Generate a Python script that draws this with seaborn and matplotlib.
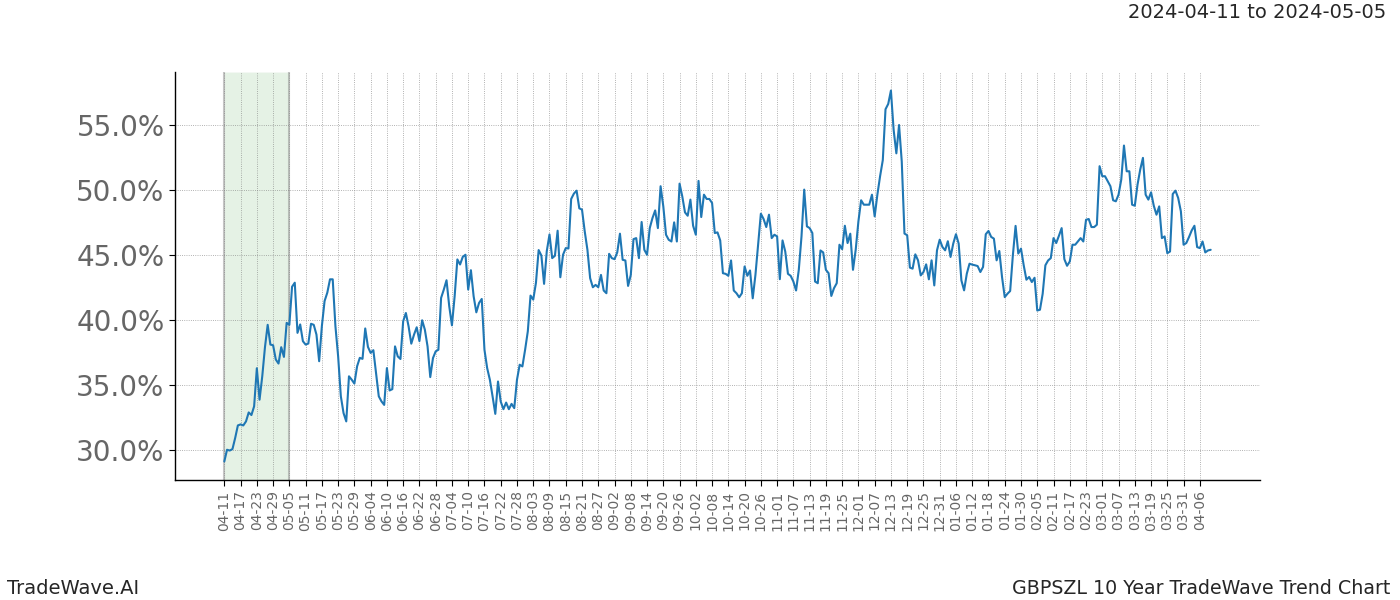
import numpy as np
import pandas as pd
import matplotlib
matplotlib.use("Agg")
import matplotlib.pyplot as plt
import matplotlib.dates as mdates
import seaborn as sns

start_date = "2024-04-11"
highlight_start = "2024-04-11"
highlight_end = "2024-05-05"
title_text = "2024-04-11 to 2024-05-05"
left_footer = "TradeWave.AI"
right_footer = "GBPSZL 10 Year TradeWave Trend Chart"
y_ticks = [30, 35, 40, 45, 50, 55]

values = [
    29.13, 30.03, 29.97, 30.08, 30.93, 31.90, 31.98, 31.90, 32.21, 32.90,
    32.70, 33.37, 36.30, 33.88, 35.68, 37.92, 39.64, 38.12, 38.07, 36.97,
    36.66, 37.92, 37.17, 39.79, 39.64, 42.57, 42.88, 39.02, 39.67, 38.38,
    38.12, 38.20, 39.72, 39.64, 38.89, 36.84, 39.54, 41.47, 42.11, 43.14,
    43.14, 39.54, 37.22, 34.14, 32.85, 32.21, 35.68, 35.42, 35.12, 36.45,
    37.10, 37.02, 39.36, 37.94, 37.48, 37.69, 35.94, 34.14, 33.75,
    33.48, 36.31, 34.59, 34.69, 37.98, 37.21, 37.01, 39.91, 40.55, 39.52,
    38.19, 38.88, 39.45, 38.39, 39.99, 39.27, 37.98, 35.62, 37.08, 37.60,
    37.72, 41.71, 42.35, 43.07, 41.07, 39.60, 41.84, 44.67, 44.28, 44.87,
    45.03, 42.35, 43.84, 41.84, 40.60, 41.32, 41.63, 37.72, 36.31, 35.41,
    34.13, 32.79, 35.28, 33.74, 33.15, 33.66, 33.15, 33.56, 33.23, 35.41,
    36.57, 36.44, 37.72, 39.14, 41.89, 41.58, 42.87, 45.39, 44.97, 42.79,
    45.31, 46.59,
    44.77, 44.95, 46.88, 43.30, 45.03, 45.54, 45.51, 49.32, 49.73, 49.96,
    48.60, 48.50, 46.83, 45.41, 43.23, 42.53, 42.71, 42.53, 43.48, 42.28,
    42.07, 45.10, 44.77, 44.69, 45.21, 46.65, 44.64, 44.59, 42.63, 43.48,
    46.23, 46.31, 44.77, 47.55, 45.41, 45.03, 47.08, 47.85, 48.44, 47.08,
    50.30, 48.75, 46.57, 46.18, 46.05, 47.52, 46.05, 50.50, 49.52, 48.29,
    48.03, 49.27, 47.26, 46.57, 50.71, 47.93, 49.65, 49.32, 49.32, 49.01,
    46.70,
    46.75, 46.13, 43.61, 43.56, 43.41, 44.59, 42.28, 42.07, 41.76, 42.07,
    44.13, 43.41, 43.82, 41.68, 43.48, 45.80, 48.19, 47.78, 47.16, 48.11,
    46.31, 46.57, 46.44, 43.15, 46.13, 45.28, 43.56, 43.41, 42.97, 42.28,
    43.87, 46.44, 50.04, 47.21, 47.08, 46.70, 42.97, 42.84, 45.36, 45.21,
    43.87, 43.61, 41.86, 42.46, 42.84, 45.80, 45.46, 47.26, 45.93, 46.65,
    43.87, 45.41, 47.60, 49.22, 48.88, 48.88, 48.88, 49.65, 47.98, 49.65,
    51.07,
    52.31, 56.22, 56.63, 57.66, 54.63, 52.83, 55.01, 52.19, 46.66, 46.53,
    44.04, 43.96, 45.06, 44.60, 43.44, 43.70, 44.29, 43.14, 44.60, 42.67,
    45.37, 46.19, 45.63, 45.37, 46.07, 44.86, 45.89, 46.61, 45.89, 43.06,
    42.29, 43.57, 44.34, 44.27, 44.22, 44.16, 43.70, 44.09, 46.61, 46.86,
    46.40, 46.27, 44.60, 45.32, 43.32, 41.77, 42.03, 42.24, 44.99, 47.25,
    45.12, 45.50, 44.22, 43.11, 43.32, 42.93, 43.26, 40.74, 40.80, 42.03,
    44.22,
    44.59, 44.77, 46.31, 45.93, 46.49, 47.08, 44.69, 44.18, 44.51, 45.80,
    45.80, 46.05, 46.31, 46.05, 47.72, 47.78, 47.16, 47.16, 47.34, 51.84,
    51.07, 51.07, 50.68, 50.30, 49.22, 49.14, 49.65, 50.81, 53.43, 51.45,
    51.45, 48.88, 48.80, 50.42, 51.58, 52.48, 49.65, 49.27, 49.83, 48.80,
    48.11, 48.75, 46.31, 46.44, 45.15, 45.28, 49.70, 49.96, 49.40, 48.37,
    45.80, 45.93, 46.39, 46.90, 47.26, 45.62, 45.54, 46.05, 45.21, 45.36,
    45.41,
]

dates = pd.date_range(start_date, periods=len(values), freq="D")
df = pd.DataFrame({"date": dates, "value": values})

sns.set_style("white")
plt.rcParams["font.family"] = ["DejaVu Sans"]

fig, ax = plt.subplots(figsize=(14, 6), dpi=100)
fig.subplots_adjust(left=0.125, right=0.9, top=0.88, bottom=0.2)

ax.axvspan(pd.Timestamp(highlight_start), pd.Timestamp(highlight_end),
           facecolor="green", alpha=0.1, zorder=0)
for d in (highlight_start, highlight_end):
    ax.axvline(pd.Timestamp(d), color="gray", alpha=0.45, lw=1.5, zorder=1)

sns.lineplot(data=df, x="date", y="value", ax=ax, color="#1f77b4", lw=1.5, zorder=3)

tick_dates = pd.date_range(start_date, dates[-1], freq="6D")
ax.set_xticks(tick_dates)
ax.set_xticklabels([d.strftime("%m-%d") for d in tick_dates], rotation=90,
                   fontsize=10, color="#666666")
ax.set_yticks(y_ticks)
ax.set_yticklabels([f"{v:.1f}%" for v in y_ticks], fontsize=20, color="#666666")
ax.tick_params(axis="both", which="both", direction="out", length=4,
               left=True, bottom=True, color="black")

ax.grid(True, which="major", axis="both", linestyle=":", color="gray", lw=0.6, alpha=0.8)
ax.set_xlabel("")
ax.set_ylabel("")
sns.despine(ax=ax)
for s in ("left", "bottom"):
    ax.spines[s].set_color("black")
    ax.spines[s].set_linewidth(1.0)

fig.text(0.99, 0.98, title_text, ha="right", va="center", fontsize=14)
fig.text(0.005, 0.02, left_footer, ha="left", va="center", fontsize=14)
fig.text(0.993, 0.02, right_footer, ha="right", va="center", fontsize=13.7)

fig.savefig("out.png", dpi=100)
